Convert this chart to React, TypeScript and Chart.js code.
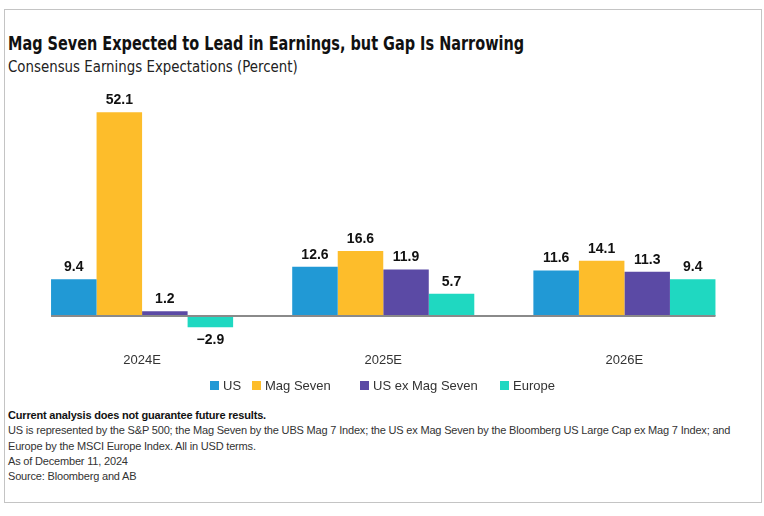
import React, { useEffect, useRef } from "react";
import { Chart, registerables } from "chart.js";

Chart.register(...registerables);

const categories = ["2024E", "2025E", "2026E"];
const seriesNames = ["US", "Mag Seven", "US ex Mag Seven", "Europe"];
const usValues = [9.4, 12.6, 11.6];
const magSevenValues = [52.1, 16.6, 14.1];
const usExMagValues = [1.2, 11.9, 11.3];
const europeValues = [-2.9, 5.7, 9.4];
const seriesValues = [usValues, magSevenValues, usExMagValues, europeValues];
const seriesColors = ["#2199d5", "#fdbd2b", "#5b4aa5", "#1fd8c1"];

const title = "Mag Seven Expected to Lead in Earnings, but Gap Is Narrowing";
const subtitle = "Consensus Earnings Expectations (Percent)";
const footBold = "Current analysis does not guarantee future results.";
const footLines = [
  "US is represented by the S&P 500; the Mag Seven by the UBS Mag 7 Index; the US ex Mag Seven by the Bloomberg US Large Cap ex Mag 7 Index; and",
  "Europe by the MSCI Europe Index. All in USD terms.",
  "As of December 11,  2024",
  "Source: Bloomberg and AB",
];

const legendLefts = [210, 252, 360, 500];

const fmt = (v: number) => (v < 0 ? "\u2212" + Math.abs(v).toFixed(1) : v.toFixed(1));

const labelPlugin = {
  id: "labelsAndZero",
  afterDatasetsDraw(chart: any) {
    const ctx = chart.ctx;
    const y0 = chart.scales.y.getPixelForValue(0);
    const first = chart.getDatasetMeta(0).data[0];
    const lastMeta = chart.getDatasetMeta(chart.data.datasets.length - 1);
    const last = lastMeta.data[lastMeta.data.length - 1];
    ctx.save();
    ctx.strokeStyle = "#8a8a8a";
    ctx.lineWidth = 2;
    ctx.beginPath();
    ctx.moveTo(first.x - first.width / 2, y0);
    ctx.lineTo(last.x + last.width / 2, y0);
    ctx.stroke();
    ctx.fillStyle = "#111";
    ctx.font = "bold 14px 'Liberation Sans', Arial, sans-serif";
    ctx.textAlign = "center";
    chart.data.datasets.forEach((ds: any, i: number) => {
      const meta = chart.getDatasetMeta(i);
      meta.data.forEach((bar: any, j: number) => {
        const v = ds.data[j];
        if (v >= 0) {
          ctx.textBaseline = "bottom";
          ctx.fillText(fmt(v), bar.x, bar.y - 5);
        } else {
          ctx.textBaseline = "top";
          ctx.fillText(fmt(v), bar.x, bar.y + 6);
        }
      });
    });
    ctx.restore();
  },
};

export default function App() {
  const ref = useRef<HTMLCanvasElement | null>(null);
  useEffect(() => {
    if (!ref.current) return;
    const chart = new Chart(ref.current, {
      type: "bar",
      data: {
        labels: categories,
        datasets: seriesNames.map((name, i) => ({
          label: name,
          data: seriesValues[i],
          backgroundColor: seriesColors[i],
          borderWidth: 0,
          categoryPercentage: 0.755,
          barPercentage: 1,
        })),
      },
      options: {
        animation: false,
        responsive: false,
        maintainAspectRatio: false,
        layout: { padding: { left: 21.5, right: 19, top: 15, bottom: 0 } },
        plugins: { legend: { display: false }, tooltip: { enabled: false } },
        scales: {
          x: {
            grid: { display: false, drawTicks: false },
            border: { display: false },
            ticks: {
              padding: 13,
              color: "#333",
              font: { size: 13, family: "'Liberation Sans', Arial, sans-serif" },
            },
          },
          y: { display: false, min: -6, max: 55 },
        },
      },
      plugins: [labelPlugin],
    });
    return () => chart.destroy();
  }, []);

  return (
    <div style={{ position: "fixed", left: 0, top: 0, width: 764, height: 516, background: "#fff", overflow: "hidden" }}>
      <div style={{ position: "absolute", left: 4, top: 9, width: 758, height: 494, border: "1px solid #c4c4c4", boxSizing: "border-box" }} />
      <div style={{ position: "absolute", left: 8, top: 32, fontFamily: "'DejaVu Sans Condensed', 'DejaVu Sans', sans-serif", fontWeight: "bold", fontSize: 19, color: "#111", whiteSpace: "nowrap", transform: "scaleX(0.846)", transformOrigin: "0 0" }}>{title}</div>
      <div style={{ position: "absolute", left: 8, top: 58, fontFamily: "'DejaVu Sans Condensed', 'DejaVu Sans', sans-serif", fontSize: 15, color: "#222", whiteSpace: "nowrap", transform: "scaleX(0.99)", transformOrigin: "0 0" }}>{subtitle}</div>
      <canvas ref={ref} width={764} height={295} style={{ position: "absolute", left: 0, top: 86, width: 764, height: 295 }} />
      {seriesNames.map((name, i) => (
        <div key={name} style={{ position: "absolute", left: legendLefts[i], top: 378, display: "flex", alignItems: "center", fontFamily: "'Liberation Sans', Arial, sans-serif", fontSize: 13, color: "#333", whiteSpace: "nowrap" }}>
          <span style={{ display: "inline-block", width: 9, height: 9, background: seriesColors[i], marginRight: 4 }} />
          {name}
        </div>
      ))}
      <div style={{ position: "absolute", left: 8, top: 408, fontFamily: "'Liberation Sans', Arial, sans-serif", fontSize: 11, lineHeight: "15.3px", letterSpacing: "-0.18px", color: "#333", whiteSpace: "nowrap" }}>
        <div style={{ fontWeight: "bold", color: "#111" }}>{footBold}</div>
        {footLines.map((l) => (
          <div key={l}>{l}</div>
        ))}
      </div>
    </div>
  );
}
